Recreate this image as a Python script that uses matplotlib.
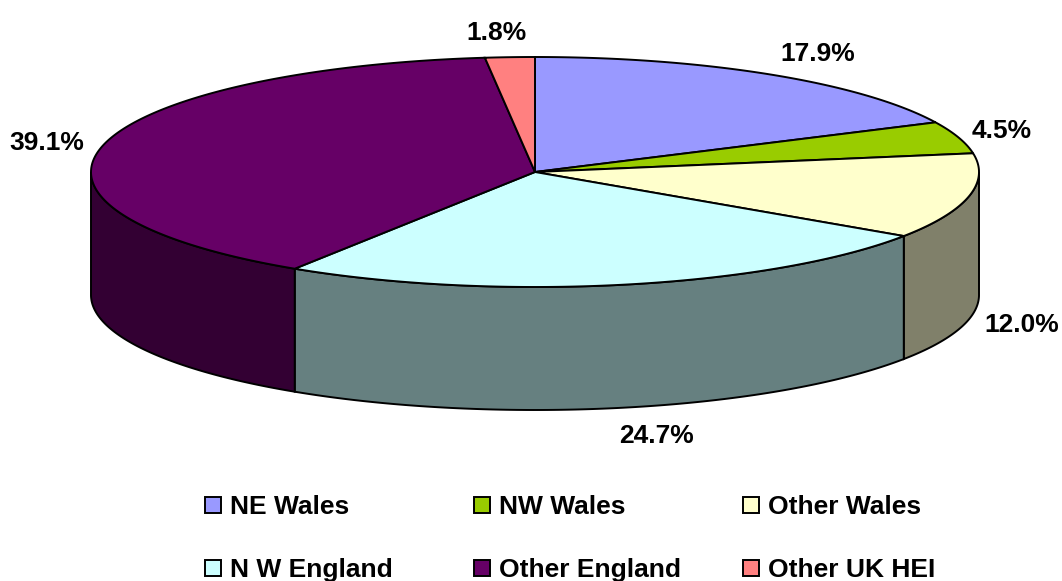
import numpy as np
import matplotlib
matplotlib.use('Agg')
import matplotlib.pyplot as plt
from matplotlib.patches import Polygon, Rectangle

plt.rcParams['font.family'] = ['Liberation Sans', 'DejaVu Sans']

categories = ['NE Wales', 'NW Wales', 'Other Wales', 'N W England', 'Other England', 'Other UK HEI']
values = [17.9, 4.5, 12.0, 24.7, 39.1, 1.8]
top_colors = ['#9999ff', '#99cc00', '#ffffcc', '#ccffff', '#660066', '#ff8080']
side_colors = ['#5c5c99', '#5c7a00', '#80806a', '#668080', '#330033', '#804040']
label_pos = [(818, 54), (1002, 131), (1022, 325), (656, 436), (47, 143), (496, 33)]
legend_pos = [(205, 505), (474, 505), (743, 505), (205, 568), (474, 568), (743, 568)]

cx, cy = 535, 172
rx, ry = 444, 115
depth = 123


def point(t):
    # t runs clockwise from twelve o'clock, in radians
    return cx + rx * np.sin(t), cy - ry * np.cos(t)


fig = plt.figure(figsize=(10.62, 5.81), dpi=100)
ax = fig.add_axes([0, 0, 1, 1])
ax.set_xlim(0, 1062)
ax.set_ylim(581, 0)
ax.axis('off')

edges = np.cumsum([0] + values)
edges = edges / edges[-1] * 2 * np.pi

# outer wall, only the front half of the ellipse shows
for i in range(len(values)):
    a = max(edges[i], np.pi / 2)
    b = min(edges[i + 1], 3 * np.pi / 2)
    if a >= b:
        continue
    t = np.linspace(a, b, 200)
    x, y = point(t)
    xy = np.concatenate([np.column_stack([x, y]),
                         np.column_stack([x[::-1], y[::-1] + depth])])
    ax.add_patch(Polygon(xy, closed=True, fc=side_colors[i], ec='black', lw=1.4, zorder=2))

# top face
for i in range(len(values)):
    t = np.linspace(edges[i], edges[i + 1], 200)
    x, y = point(t)
    xy = np.vstack([[cx, cy], np.column_stack([x, y])])
    ax.add_patch(Polygon(xy, closed=True, fc=top_colors[i], ec='black', lw=1.4, zorder=3))

for v, (x, y) in zip(values, label_pos):
    ax.text(x, y, f'{v:.1f}%', fontsize=19, fontweight='bold', ha='center', va='center')

for name, color, (x, y) in zip(categories, top_colors, legend_pos):
    ax.add_patch(Rectangle((x, y - 8), 16, 16, fc=color, ec='black', lw=1.4))
    ax.text(x + 25, y + 2, name, fontsize=19, fontweight='bold', ha='left', va='center')

fig.savefig('out.png', dpi=100, facecolor='white')
